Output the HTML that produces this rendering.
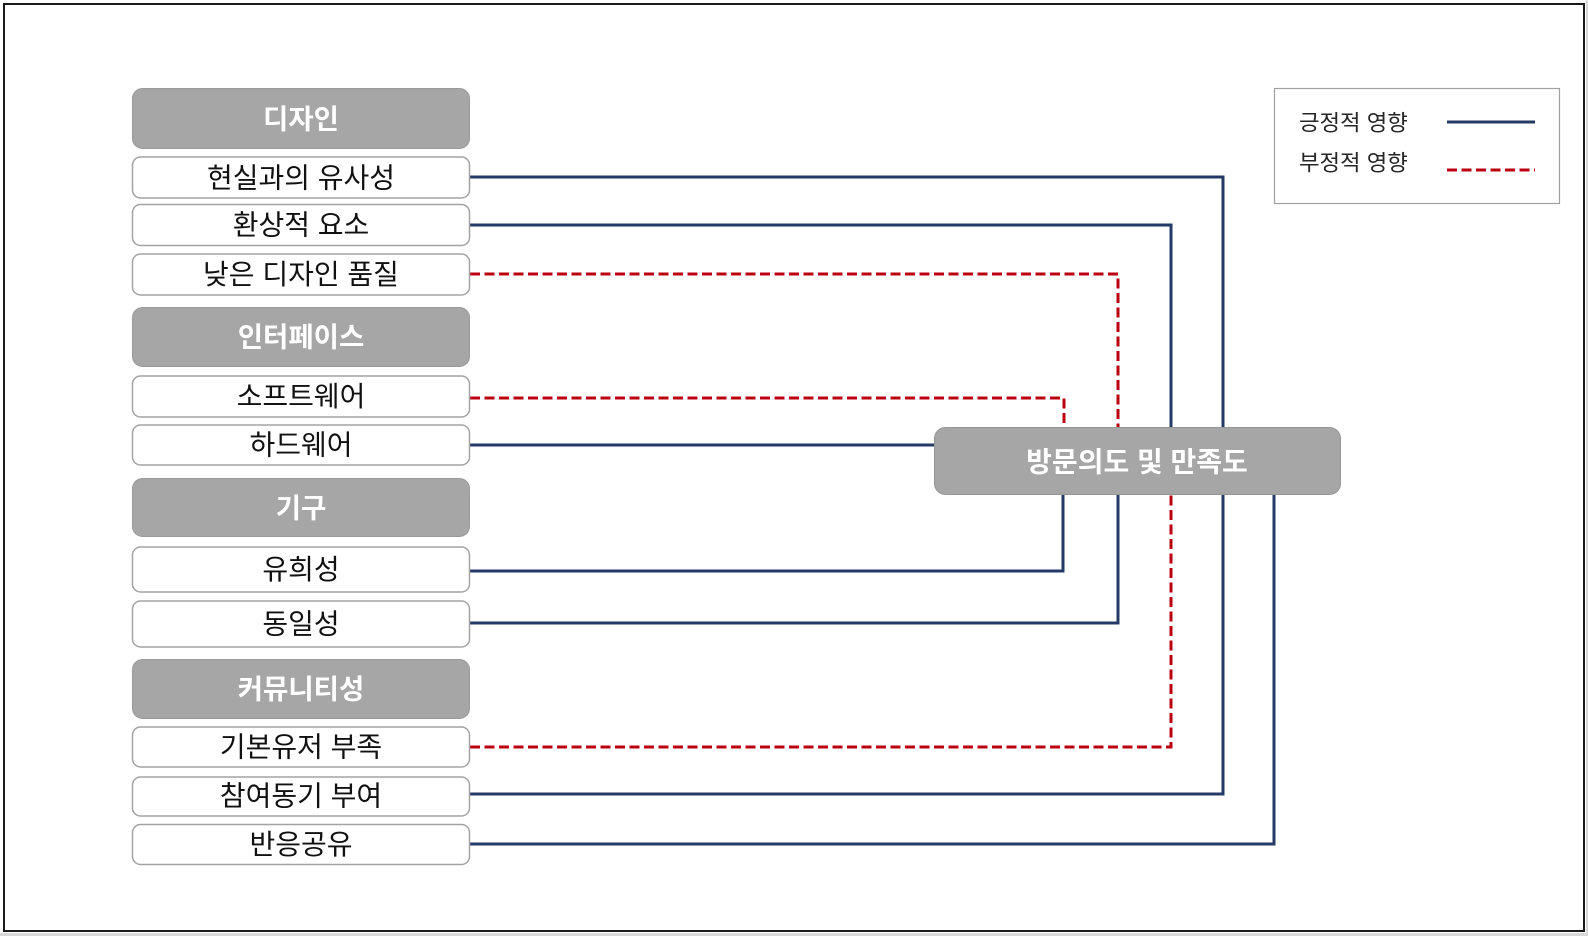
<!DOCTYPE html>
<html>
<head>
<meta charset="utf-8">
<style>
  html, body { margin:0; padding:0; background:#ffffff; }
  body { width:1588px; height:936px; overflow:hidden; }
  svg { display:block; }
  text { font-family: "Liberation Sans", "Noto Sans CJK KR", sans-serif; }
  .item { font-size:28px; fill:#111111; }
  .head { font-size:27.5px; font-weight:bold; fill:#ffffff; }
  .leg { font-size:22.3px; fill:#262626; }
</style>
</head>
<body>
<svg width="1588" height="936" viewBox="0 0 1588 936" xmlns="http://www.w3.org/2000/svg">
  <!-- outside strip -->
  <rect x="0" y="933" width="1588" height="3" fill="#d9d9d9"/>
  <rect x="1586" y="0" width="2" height="936" fill="#d9d9d9"/>
  <!-- outer border -->
  <rect x="4" y="4" width="1580" height="927" fill="#ffffff" stroke="#1a1a1a" stroke-width="2"/>

  <!-- connectors -->
  <g fill="none" stroke-width="3" stroke-linejoin="miter">
    <polyline points="470,177 1223,177 1223,428" stroke="#243a66"/>
    <polyline points="470,225 1171,225 1171,428" stroke="#243a66"/>
    <polyline points="470,274 1118,274 1118,428" stroke="#bb0010" stroke-dasharray="10 4.5"/>
    <polyline points="470,398 1064,398 1064,428" stroke="#bb0010" stroke-dasharray="10 4.5"/>
    <polyline points="470,445 935,445" stroke="#243a66"/>
    <polyline points="470,571 1063,571 1063,494" stroke="#243a66"/>
    <polyline points="470,623 1118,623 1118,494" stroke="#243a66"/>
    <polyline points="470,747 1171,747 1171,494" stroke="#bb0010" stroke-dasharray="10 4.5"/>
    <polyline points="470,794 1223,794 1223,494" stroke="#243a66"/>
    <polyline points="470,844 1274,844 1274,494" stroke="#243a66"/>
  </g>

  <!-- headers -->
  <g fill="#a6a6a6" stroke="#9a9a9a" stroke-width="1">
    <rect x="132.5" y="88.5" width="337" height="60" rx="10"/>
    <rect x="132.5" y="307.5" width="337" height="59" rx="10"/>
    <rect x="132.5" y="478.5" width="337" height="58" rx="10"/>
    <rect x="132.5" y="659.5" width="337" height="59" rx="10"/>
  </g>
  <g text-anchor="middle" dominant-baseline="central">
    <text class="head" x="301" y="119">디자인</text>
    <text class="head" x="301" y="337">인터페이스</text>
    <text class="head" x="301" y="508">기구</text>
    <text class="head" x="301" y="689">커뮤니티성</text>
  </g>

  <!-- items -->
  <g fill="#ffffff" stroke="#a3a3a3" stroke-width="1.5">
    <rect x="132.5" y="157" width="337" height="41" rx="8"/>
    <rect x="132.5" y="204.5" width="337" height="41" rx="8"/>
    <rect x="132.5" y="254" width="337" height="41" rx="8"/>
    <rect x="132.5" y="376" width="337" height="41" rx="8"/>
    <rect x="132.5" y="425" width="337" height="40" rx="8"/>
    <rect x="132.5" y="547" width="337" height="45" rx="8"/>
    <rect x="132.5" y="601" width="337" height="46" rx="8"/>
    <rect x="132.5" y="727" width="337" height="40" rx="8"/>
    <rect x="132.5" y="777" width="337" height="39" rx="8"/>
    <rect x="132.5" y="824.5" width="337" height="40" rx="8"/>
  </g>
  <g text-anchor="middle" dominant-baseline="central">
    <text class="item" x="301" y="178">현실과의 유사성</text>
    <text class="item" x="301" y="225">환상적 요소</text>
    <text class="item" x="301" y="274.5">낮은 디자인 품질</text>
    <text class="item" x="301" y="396.5">소프트웨어</text>
    <text class="item" x="301" y="445">하드웨어</text>
    <text class="item" x="301" y="569.5">유희성</text>
    <text class="item" x="301" y="624">동일성</text>
    <text class="item" x="301" y="747">기본유저 부족</text>
    <text class="item" x="301" y="796">참여동기 부여</text>
    <text class="item" x="301" y="844.5">반응공유</text>
  </g>

  <!-- center box -->
  <rect x="934.5" y="427.5" width="406" height="67" rx="11" fill="#a6a6a6" stroke="#969696" stroke-width="1"/>
  <text x="1137" y="462" text-anchor="middle" dominant-baseline="central" class="head" style="font-size:28px">방문의도 및 만족도</text>

  <!-- legend -->
  <rect x="1274.5" y="88.5" width="285" height="115" fill="#ffffff" stroke="#a0a0a0" stroke-width="1.2"/>
  <text class="leg" x="1299" y="123" dominant-baseline="central">긍정적 영향</text>
  <text class="leg" x="1299" y="163" dominant-baseline="central">부정적 영향</text>
  <line x1="1447" y1="122" x2="1535" y2="122" stroke="#243a66" stroke-width="3"/>
  <line x1="1447" y1="170" x2="1535" y2="170" stroke="#bb0010" stroke-width="3" stroke-dasharray="10 4.5"/>
</svg>
</body>
</html>
